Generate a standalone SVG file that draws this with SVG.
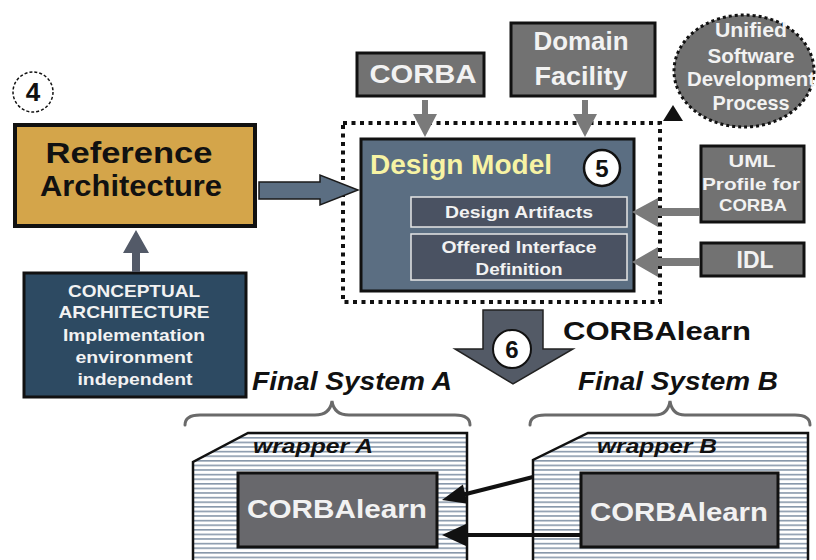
<svg xmlns="http://www.w3.org/2000/svg" width="816" height="560" viewBox="0 0 816 560">
  <style>
    text { font-family: "Liberation Sans", Arial, sans-serif; font-weight: bold; }
    .wt { fill: #f2f2f2; }
    .bk { fill: #111; }
    .it { font-style: italic; }
    .c { text-anchor: middle; }
    .graybox { fill: #727272; stroke: #111; stroke-width: 3; }
    .grayarrow { fill: #7a7a7a; }
    .inner { fill: #4a5262; stroke: #e6e6e6; stroke-width: 1.5; }
    .brace { fill: none; stroke: #6a6a6a; stroke-width: 3; stroke-linecap: round; }
    .wrap { fill: url(#stripes); stroke: #111; stroke-width: 2.5; }
    .lbox { fill: #68686c; stroke: #111; stroke-width: 3; }
  </style>
  <defs>
    <pattern id="stripes" patternUnits="userSpaceOnUse" width="10" height="4.6">
      <rect width="10" height="4.6" fill="#ffffff"/>
      <rect y="0" width="10" height="1.6" fill="#8797aa"/>
    </pattern>
  </defs>
  <rect width="816" height="560" fill="#ffffff"/>

  <g id="step4">
    <circle cx="33" cy="92" r="20" fill="#fff" stroke="#111" stroke-width="1.5" stroke-dasharray="3 2"/>
    <text x="33" y="101" class="bk c" font-size="26">4</text>
  </g>

  <g id="reference-architecture">
    <rect x="15" y="125" width="240" height="101" fill="#d4a54a" stroke="#111" stroke-width="4"/>
    <text x="129" y="163" class="bk c" font-size="29" textLength="167" lengthAdjust="spacingAndGlyphs">Reference</text>
    <text x="131" y="196" class="bk c" font-size="29" textLength="182" lengthAdjust="spacingAndGlyphs">Architecture</text>
  </g>

  <g id="conceptual-architecture">
    <rect x="24" y="273" width="222" height="124" fill="#2d4a62" stroke="#111" stroke-width="3"/>
    <text x="134" y="297" class="wt c" font-size="17" textLength="132" lengthAdjust="spacingAndGlyphs">CONCEPTUAL</text>
    <text x="134" y="318" class="wt c" font-size="17" textLength="151" lengthAdjust="spacingAndGlyphs">ARCHITECTURE</text>
    <text x="134" y="341" class="wt c" font-size="17" textLength="142" lengthAdjust="spacingAndGlyphs">Implementation</text>
    <text x="134" y="363" class="wt c" font-size="17" textLength="117" lengthAdjust="spacingAndGlyphs">environment</text>
    <text x="135" y="385" class="wt c" font-size="17" textLength="115" lengthAdjust="spacingAndGlyphs">independent</text>
  </g>

  <g id="corba">
    <rect class="graybox" x="357" y="53" width="127" height="43"/>
    <text x="423" y="83" class="wt c" font-size="26" textLength="107" lengthAdjust="spacingAndGlyphs">CORBA</text>
  </g>

  <g id="domain-facility">
    <rect class="graybox" x="511" y="23" width="144" height="73"/>
    <text x="581" y="50" class="wt c" font-size="26" textLength="95" lengthAdjust="spacingAndGlyphs">Domain</text>
    <text x="581" y="85" class="wt c" font-size="26" textLength="93" lengthAdjust="spacingAndGlyphs">Facility</text>
  </g>

  <g id="unified-process">
    <ellipse cx="744" cy="71" rx="70" ry="56" fill="#707070" stroke="#111" stroke-width="3" stroke-dasharray="3 3"/>
    <text x="751" y="37" class="wt c" font-size="20" textLength="72" lengthAdjust="spacingAndGlyphs">Unified</text>
    <text x="751" y="63" class="wt c" font-size="20" textLength="87" lengthAdjust="spacingAndGlyphs">Software</text>
    <text x="751" y="86" class="wt c" font-size="20" textLength="128" lengthAdjust="spacingAndGlyphs">Development</text>
    <text x="751" y="110" class="wt c" font-size="20" textLength="77" lengthAdjust="spacingAndGlyphs">Process</text>
  </g>

  <g id="design-model">
    <rect x="343" y="123" width="317" height="179" fill="none" stroke="#111" stroke-width="4" stroke-dasharray="4 4.5"/>
    <rect x="361" y="139" width="273" height="152" fill="#5b6e82" stroke="#111" stroke-width="3"/>
    <text x="370" y="174" font-size="27" fill="#f7f3a4" textLength="182" lengthAdjust="spacingAndGlyphs">Design Model</text>
    <circle cx="602" cy="168" r="18" fill="#fff" stroke="#111" stroke-width="2.5"/>
    <text x="602" y="177" class="bk c" font-size="24">5</text>
  </g>

  <g id="design-artifacts">
    <rect class="inner" x="411" y="197" width="216" height="30"/>
    <text x="519" y="218" class="wt c" font-size="17" textLength="148" lengthAdjust="spacingAndGlyphs">Design Artifacts</text>
  </g>

  <g id="offered-interface">
    <rect class="inner" x="411" y="234" width="216" height="46"/>
    <text x="519" y="253" class="wt c" font-size="17" textLength="155" lengthAdjust="spacingAndGlyphs">Offered Interface</text>
    <text x="519" y="275" class="wt c" font-size="17" textLength="87" lengthAdjust="spacingAndGlyphs">Definition</text>
  </g>

  <g id="uml-profile">
    <rect class="graybox" x="701" y="146" width="103" height="76"/>
    <text x="752" y="167" class="wt c" font-size="17" textLength="47" lengthAdjust="spacingAndGlyphs">UML</text>
    <text x="751" y="190" class="wt c" font-size="17" textLength="98" lengthAdjust="spacingAndGlyphs">Profile for</text>
    <text x="753" y="211" class="wt c" font-size="17" textLength="68" lengthAdjust="spacingAndGlyphs">CORBA</text>
  </g>

  <g id="idl">
    <rect class="graybox" x="701" y="243" width="103" height="33"/>
    <text x="755" y="268" class="wt c" font-size="24" textLength="37" lengthAdjust="spacingAndGlyphs">IDL</text>
  </g>

  <g id="step6">
    <path d="M483,310 H543 V349 H573 L513,384 L455,349 H483 Z" fill="#535a66" stroke="#222" stroke-width="1.5"/>
    <circle cx="512" cy="349" r="19" fill="#fff" stroke="#111" stroke-width="2"/>
    <text x="512" y="358" class="bk c" font-size="24">6</text>
    <text x="563" y="340" class="bk" font-size="26" textLength="188" lengthAdjust="spacingAndGlyphs">CORBAlearn</text>
  </g>

  <g id="final-system-a">
    <text x="252" y="390" class="bk it" font-size="25" textLength="200" lengthAdjust="spacingAndGlyphs">Final System A</text>
    <path class="brace" d="M185,425 Q185,415 200,415 L315,415 Q330,415 332,401 Q334,415 349,415 L455,415 Q470,415 470,425"/>
    <polygon class="wrap" points="193,562 193,462 248,433 467,433 467,562"/>
    <text x="253" y="453" class="bk it" font-size="20" textLength="120" lengthAdjust="spacingAndGlyphs">wrapper A</text>
    <rect class="lbox" x="238" y="473" width="199" height="74"/>
    <text x="247" y="518" class="wt" font-size="26" textLength="180" lengthAdjust="spacingAndGlyphs">CORBAlearn</text>
  </g>

  <g id="final-system-b">
    <text x="578" y="390" class="bk it" font-size="25" textLength="200" lengthAdjust="spacingAndGlyphs">Final System B</text>
    <path class="brace" d="M530,425 Q530,415 545,415 L655,415 Q668,415 670,401 Q672,415 685,415 L795,415 Q810,415 810,425"/>
    <polygon class="wrap" points="533,562 533,460 588,433 808,433 808,562"/>
    <text x="597" y="453" class="bk it" font-size="20" textLength="120" lengthAdjust="spacingAndGlyphs">wrapper B</text>
    <rect class="lbox" x="581" y="473" width="197" height="74"/>
    <text x="590" y="521" class="wt" font-size="26" textLength="178" lengthAdjust="spacingAndGlyphs">CORBAlearn</text>
  </g>

  <!-- connectors, drawn over the boxes -->
  <g id="connectors">
    <!-- reference architecture to design model -->
    <path d="M259,182 H320 V175 L358,190 L320,205 V199 H259 Z" fill="#5b6e82" stroke="#1a1a1a" stroke-width="1.5"/>
    <!-- conceptual architecture up to reference architecture -->
    <path d="M132,272 V253 H123 L136,230 L149,253 H140 V272 Z" fill="#535a68"/>
    <!-- CORBA and Domain Facility down into the design model -->
    <path class="grayarrow" d="M422,100 H428 V114 H437 L425,137 L413,114 H422 Z"/>
    <path class="grayarrow" d="M582,100 H588 V114 H597 L585,137 L573,114 H582 Z"/>
    <!-- UML profile and IDL into the inner boxes -->
    <path class="grayarrow" d="M700,208 V216 H658 V227 L632,212 L658,198 V208 Z"/>
    <path class="grayarrow" d="M700,258 V266 H658 V277 L632,262 L658,247 V258 Z"/>
    <!-- small triangle toward the process ellipse -->
    <polygon points="663,121 683,121 673,105" fill="#111"/>
    <!-- wrapper B to CORBAlearn A -->
    <line x1="533" y1="477" x2="462" y2="495" stroke="#111" stroke-width="4"/>
    <polygon points="442,500 467.7,503.8 462.9,484.4" fill="#111"/>
    <line x1="580" y1="535" x2="462" y2="535" stroke="#111" stroke-width="4"/>
    <polygon points="442,535 466,524 466,546" fill="#111"/>
  </g>
</svg>
